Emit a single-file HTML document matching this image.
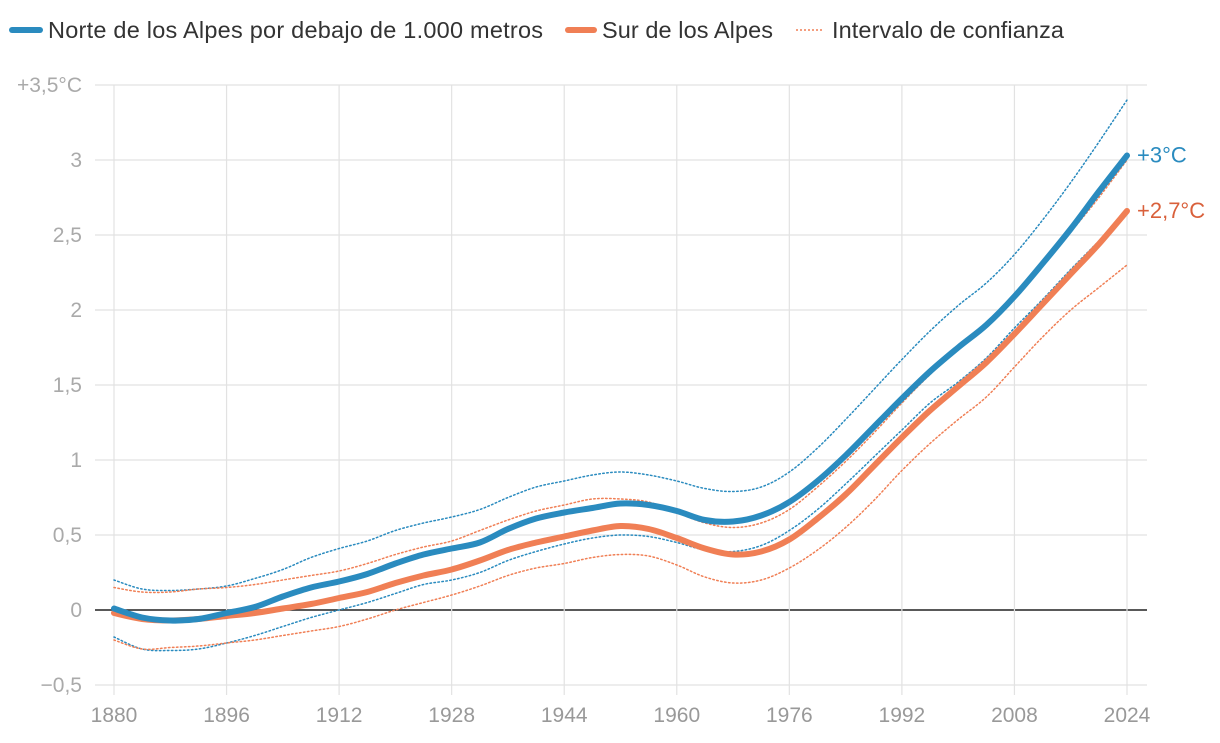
<!DOCTYPE html>
<html><head><meta charset="utf-8"><style>
body{margin:0;background:#fff;font-family:"Liberation Sans",sans-serif}
svg text{font-family:"Liberation Sans",sans-serif}
</style></head><body>
<svg id="chart" width="1220" height="738">
<g id="legend">
<g><line x1="12" y1="30" x2="40" y2="30" stroke="#2a8bbf" stroke-width="6" stroke-linecap="round"/><text x="48" y="38" font-size="23.5" fill="#333" textLength="495">Norte de los Alpes por debajo de 1.000 metros</text></g>
<g><line x1="568" y1="30" x2="594" y2="30" stroke="#f07f55" stroke-width="6" stroke-linecap="round"/><text x="602" y="38" font-size="23.5" fill="#333" textLength="171">Sur de los Alpes</text></g>
<g><line x1="796" y1="30" x2="824" y2="30" stroke="#f07f55" stroke-width="1.5" stroke-dasharray="2,2"/><text x="832" y="38" font-size="23.5" fill="#333" textLength="232">Intervalo de confianza</text></g>
</g>
<g id="grid"></g><g id="series"></g><g id="labels"></g>
</svg>
<script>
const years=[1880,1884,1888,1892,1896,1900,1904,1908,1912,1916,1920,1924,1928,1932,1936,1940,1944,1948,1952,1956,1960,1964,1968,1972,1976,1980,1984,1988,1992,1996,2000,2004,2008,2012,2016,2020,2024];
const north=[0.01,-0.05,-0.07,-0.06,-0.02,0.02,0.09,0.15,0.19,0.24,0.31,0.37,0.41,0.45,0.54,0.61,0.65,0.68,0.71,0.70,0.66,0.60,0.59,0.63,0.72,0.86,1.03,1.22,1.41,1.59,1.75,1.90,2.09,2.31,2.54,2.79,3.03];
const south=[-0.02,-0.06,-0.07,-0.06,-0.04,-0.02,0.01,0.04,0.08,0.12,0.18,0.23,0.27,0.33,0.40,0.45,0.49,0.53,0.56,0.54,0.48,0.41,0.37,0.39,0.47,0.61,0.77,0.96,1.15,1.33,1.49,1.65,1.84,2.04,2.24,2.44,2.66];
const northUpper=[0.2,0.14,0.13,0.14,0.16,0.21,0.27,0.35,0.41,0.46,0.53,0.58,0.62,0.67,0.75,0.82,0.86,0.90,0.92,0.90,0.86,0.81,0.79,0.82,0.92,1.08,1.27,1.47,1.67,1.86,2.03,2.18,2.37,2.60,2.85,3.12,3.40];
const northLower=[-0.18,-0.26,-0.27,-0.26,-0.22,-0.17,-0.11,-0.05,0.0,0.05,0.11,0.17,0.20,0.25,0.33,0.39,0.44,0.48,0.50,0.49,0.45,0.40,0.39,0.43,0.53,0.67,0.84,1.02,1.20,1.38,1.52,1.68,1.88,2.07,2.27,2.46,2.65];
const southUpper=[0.15,0.12,0.12,0.14,0.15,0.17,0.2,0.23,0.26,0.31,0.37,0.42,0.46,0.53,0.60,0.66,0.70,0.74,0.74,0.72,0.65,0.58,0.55,0.58,0.67,0.82,0.99,1.18,1.38,1.57,1.74,1.90,2.10,2.30,2.52,2.75,3.00];
const southLower=[-0.2,-0.26,-0.25,-0.24,-0.22,-0.2,-0.17,-0.14,-0.11,-0.06,0.0,0.05,0.10,0.16,0.23,0.28,0.31,0.35,0.37,0.36,0.30,0.22,0.18,0.20,0.28,0.40,0.55,0.73,0.93,1.11,1.27,1.42,1.62,1.82,2.00,2.15,2.30];
const xTicks=[1880,1896,1912,1928,1944,1960,1976,1992,2008,2024];
const yTicks=[-0.5,0,0.5,1,1.5,2,2.5,3,3.5];
const yTickLabels=["−0,5","0","0,5","1","1,5","2","2,5","3","+3,5°C"];
const NS="http://www.w3.org/2000/svg";
const x=v=>114+(v-1880)*(1127-114)/144;
const y=v=>610-v*150;
function mk(t,a,p){const e=document.createElementNS(NS,t);for(const k in a)e.setAttribute(k,a[k]);p.appendChild(e);return e;}
const grid=document.getElementById('grid'),ser=document.getElementById('series'),lab=document.getElementById('labels');
yTicks.forEach((v,i)=>{
 const l=mk('line',{x1:95,x2:1147,y1:y(v),y2:y(v),stroke:v===0?'#222':'#e2e2e2','stroke-width':v===0?1.5:1.2},grid);
 
 
 const t=mk('text',{x:82,y:y(v)+7,'text-anchor':'end','font-size':21,fill:'#aaa'},lab);
 t.textContent=yTickLabels[i];
 
 
});
xTicks.forEach(v=>{
 const l=mk('line',{x1:x(v),x2:x(v),y1:85,y2:695,stroke:'#e2e2e2','stroke-width':1.2},grid);
 
 
 const t=mk('text',{x:x(v),y:722,'text-anchor':'middle','font-size':21,fill:'#999'},lab);
 t.textContent=v;
 
 
});
function path(vals){
 const p=vals.map((v,i)=>[x(years[i]),y(v)]);
 let d='M'+p[0][0].toFixed(1)+','+p[0][1].toFixed(1);
 for(let i=0;i<p.length-1;i++){
  const p0=p[Math.max(0,i-1)],p1=p[i],p2=p[i+1],p3=p[Math.min(p.length-1,i+2)];
  const c1=[p1[0]+(p2[0]-p0[0])/6,p1[1]+(p2[1]-p0[1])/6],c2=[p2[0]-(p3[0]-p1[0])/6,p2[1]-(p3[1]-p1[1])/6];
  d+='C'+c1.map(n=>n.toFixed(1)).join(',')+' '+c2.map(n=>n.toFixed(1)).join(',')+' '+p2.map(n=>n.toFixed(1)).join(',');
 }
 return d;
}
function line(vals,color,w,dash,name){
 const a={d:path(vals),fill:'none',stroke:color,'stroke-width':w,'stroke-linejoin':'round','stroke-linecap':'round'};
 if(dash)a['stroke-dasharray']=dash;
 const p=mk('path',a,ser);
 
 
}
line(northUpper,'#2a8bbf',1.5,'1.5,2.5','north-ci-upper');
line(northLower,'#2a8bbf',1.5,'1.5,2.5','north-ci-lower');
line(southUpper,'#f07f55',1.5,'1.5,2.5','south-ci-upper');
line(southLower,'#f07f55',1.5,'1.5,2.5','south-ci-lower');
line(south,'#f07f55',6,null,'south-line');
line(north,'#2a8bbf',6,null,'north-line');
const t1=mk('text',{x:1137,y:y(north[north.length-1])+7,'font-size':22,fill:'#2a8bbf'},lab);
t1.textContent='+3°C';


const t2=mk('text',{x:1137,y:y(south[south.length-1])+7,'font-size':22,fill:'#d9603b'},lab);
t2.textContent='+2,7°C';


</script>
</body></html>
